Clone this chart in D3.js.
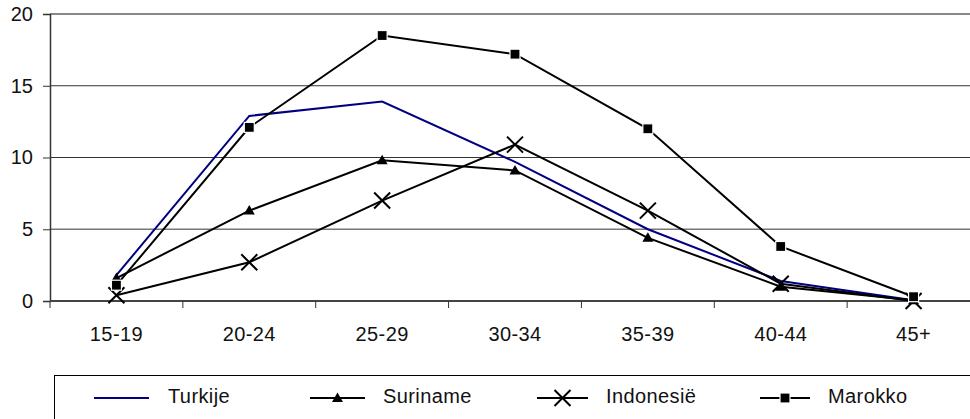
<!DOCTYPE html>
<html><head><meta charset="utf-8">
<script src="https://cdn.jsdelivr.net/npm/d3@7"></script>
<style>body{margin:0;background:#fff;overflow:hidden}svg{display:block;font-family:"Liberation Sans",Arial,sans-serif}</style>
</head><body><svg id="c" width="970" height="419"></svg>
<script>
const categories = ["15-19","20-24","25-29","30-34","35-39","40-44","45+"];
const turkije   = [1.8, 12.9, 13.9, 9.7, 5.0, 1.4, 0.05];
const suriname  = [1.6, 6.3, 9.8, 9.1, 4.4, 1.0, 0.05];
const indonesie = [0.4, 2.7, 7.0, 10.9, 6.3, 1.2, 0.0];
const marokko   = [1.1, 12.1, 18.5, 17.2, 12.0, 3.8, 0.3];
const yTicks = [0, 5, 10, 15, 20];
const seriesNames = ["Turkije","Suriname","Indonesië","Marokko"];

const svg = d3.select("#c");
const mLeft = 50, mRight = 980, mTop = 14, mBottom = 301;
const x = d3.scaleBand().domain(categories).range([mLeft, mRight]);
const y = d3.scaleLinear().domain([0, 20]).range([mBottom, mTop]);
const FONT = "Liberation Sans, Arial, sans-serif";

// gridlines
svg.append("g").selectAll("line").data(yTicks.filter(d => d > 0)).join("line")
  .attr("x1", mLeft).attr("x2", 970).attr("y1", d => y(d)).attr("y2", d => y(d))
  .attr("stroke", d => d === 20 ? "#888" : (d === 5 ? "#777" : "#333"))
  .attr("stroke-width", d => d === 20 ? 2 : (d === 5 ? 1.5 : 1));

// y axis
const ya = svg.append("g").attr("transform", `translate(${mLeft},0)`)
  .call(d3.axisLeft(y).tickValues(yTicks).tickSize(7).tickPadding(10));
ya.select(".domain").attr("stroke", "#333").attr("stroke-width", 1.5);
ya.selectAll("line").attr("stroke", "#333");
ya.selectAll("text").attr("font-size", 20).attr("fill", "#111").attr("font-family", FONT);

// x axis
const xa = svg.append("g").attr("transform", `translate(0,${mBottom})`)
  .call(d3.axisBottom(x).tickSize(0).tickPadding(26));
xa.select(".domain").remove();
xa.selectAll("text").attr("font-size", 20).attr("fill", "#111").attr("font-family", FONT).attr("letter-spacing", "0.4px");
svg.append("line").attr("x1", mLeft).attr("x2", 970).attr("y1", mBottom).attr("y2", mBottom).attr("stroke", "#444").attr("stroke-width", 2);
svg.append("g").selectAll("line").data(categories).join("line")
  .attr("x1", d => x(d)).attr("x2", d => x(d)).attr("y1", mBottom).attr("y2", mBottom + 7)
  .attr("stroke", "#333");

const line = d3.line().x((d, i) => x(categories[i]) + x.bandwidth() / 2).y(d => y(d));
const data = [
  {name: "Turkije", vals: turkije, color: "#000080", marker: "none"},
  {name: "Suriname", vals: suriname, color: "#000", marker: "tri"},
  {name: "Indonesië", vals: indonesie, color: "#000", marker: "x"},
  {name: "Marokko", vals: marokko, color: "#000", marker: "sq"}
];

function drawMarker(g, type, cx, cy) {
  if (type === "sq") {
    g.append("rect").attr("x", cx - 5).attr("y", cy - 5).attr("width", 10).attr("height", 10)
      .attr("fill", "#000").attr("stroke", "#fff").attr("stroke-width", 1.2);
  } else if (type === "tri") {
    g.append("path").attr("d", `M${cx},${cy-5.5}L${cx+5.5},${cy+4}L${cx-5.5},${cy+4}Z`).attr("fill", "#000");
  } else if (type === "x") {
    g.append("path").attr("d", `M${cx-8},${cy-8}L${cx+8},${cy+8}M${cx+8},${cy-8}L${cx-8},${cy+8}`)
      .attr("stroke", "#000").attr("stroke-width", 2);
  }
}

data.forEach(s => {
  svg.append("path").attr("d", line(s.vals)).attr("fill", "none")
    .attr("stroke", s.color).attr("stroke-width", 2);
});
data.forEach(s => {
  const g = svg.append("g");
  s.vals.forEach((v, i) => drawMarker(g, s.marker, x(categories[i]) + x.bandwidth() / 2, y(v)));
});

// legend
const lg = svg.append("g");
lg.append("rect").attr("x", 54.5).attr("y", 375.5).attr("width", 930).attr("height", 60)
  .attr("fill", "#fff").attr("stroke", "#000").attr("stroke-width", 1);
const legendX = [94, 310, 537, 760];
const legendLineW = [55, 55, 51, 50];
const legendTextX = [168, 383, 606, 828];
data.forEach((s, i) => {
  const lx = legendX[i], ly = 398;
  lg.append("line").attr("x1", lx).attr("x2", lx + legendLineW[i]).attr("y1", ly).attr("y2", ly)
    .attr("stroke", s.color).attr("stroke-width", 2);
  drawMarker(lg, s.marker, lx + legendLineW[i] / 2, ly);
  lg.append("text").attr("x", legendTextX[i]).attr("y", 403)
    .attr("font-size", 20).attr("fill", "#111").attr("letter-spacing", "0.4px").text(seriesNames[i]);
});
</script></body></html>
